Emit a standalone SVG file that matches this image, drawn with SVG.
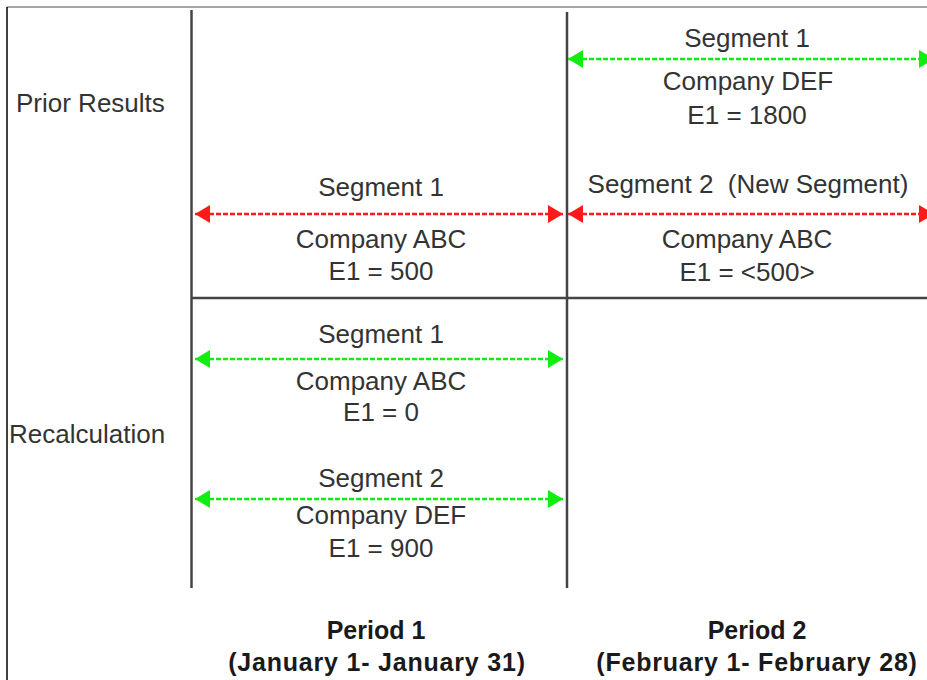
<svg xmlns="http://www.w3.org/2000/svg" width="927" height="680" viewBox="0 0 927 680">
<style>
text{font-family:"Liberation Sans",Arial,sans-serif;font-size:26px;fill:#333;text-anchor:middle}
.lbl{text-anchor:start}
.b{font-weight:bold;font-size:25px;fill:#1a1a1a}
.w{letter-spacing:0.8px}
.grid{stroke:#444;stroke-width:2.5;fill:none}
.g{stroke:#10ee10;stroke-width:2.5;stroke-dasharray:5 2;fill:none}
.r{stroke:#ff1a1a;stroke-width:2.5;stroke-dasharray:5 2;fill:none}
</style>
<defs>
<marker id="ag" markerUnits="userSpaceOnUse" markerWidth="16" markerHeight="20" refX="15" refY="10" orient="auto-start-reverse"><path d="M0,1 L15,10 L0,19 z" fill="#10ee10"/></marker>
<marker id="ar" markerUnits="userSpaceOnUse" markerWidth="16" markerHeight="20" refX="15" refY="10" orient="auto-start-reverse"><path d="M0,1 L15,10 L0,19 z" fill="#ff1a1a"/></marker>
</defs>
<rect width="927" height="680" fill="#fff"/>
<g id="frame">
<line x1="7" y1="7" x2="927" y2="7" stroke="#888" stroke-width="1.5"/>
<line x1="7" y1="7" x2="7" y2="680" stroke="#000" stroke-width="1.5"/>
</g>
<g id="grid" class="grid">
<line x1="191.5" y1="10" x2="191.5" y2="588"/>
<line x1="567" y1="12" x2="567" y2="588"/>
<line x1="191" y1="298" x2="927" y2="298"/>
</g>
<g id="connectors">
<line class="g" x1="568" y1="59" x2="934" y2="59" marker-start="url(#ag)" marker-end="url(#ag)"/>
<line class="r" x1="195" y1="214" x2="563" y2="214" marker-start="url(#ar)" marker-end="url(#ar)"/>
<line class="r" x1="568" y1="214" x2="934" y2="214" marker-start="url(#ar)" marker-end="url(#ar)"/>
<line class="g" x1="195" y1="359" x2="563" y2="359" marker-start="url(#ag)" marker-end="url(#ag)"/>
<line class="g" x1="195" y1="499" x2="563" y2="499" marker-start="url(#ag)" marker-end="url(#ag)"/>
</g>
<g id="label-prior"><text class="lbl" x="16" y="112">Prior Results</text></g>
<g id="label-recalc"><text class="lbl" x="9" y="443">Recalculation</text></g>
<g id="p2-seg1">
<text x="747" y="47">Segment 1</text>
<text x="748" y="90">Company DEF</text>
<text x="747" y="124">E1 = 1800</text>
</g>
<g id="p1-seg1-prior">
<text x="381" y="196">Segment 1</text>
<text x="381" y="248">Company ABC</text>
<text x="381" y="280">E1 = 500</text>
</g>
<g id="p2-seg2-prior">
<text x="748" y="193" xml:space="preserve">Segment 2  (New Segment)</text>
<text x="747" y="248">Company ABC</text>
<text x="747" y="281">E1 = &lt;500&gt;</text>
</g>
<g id="p1-seg1-recalc">
<text x="381" y="343">Segment 1</text>
<text x="381" y="390">Company ABC</text>
<text x="381" y="421">E1 = 0</text>
</g>
<g id="p1-seg2-recalc">
<text x="381" y="487">Segment 2</text>
<text x="381" y="524">Company DEF</text>
<text x="381" y="557">E1 = 900</text>
</g>
<g id="period1">
<text class="b" x="376" y="639">Period 1</text>
<text class="b w" x="377" y="671">(January 1- January 31)</text>
</g>
<g id="period2">
<text class="b" x="757" y="639">Period 2</text>
<text class="b w" x="757" y="671">(February 1- February 28)</text>
</g>
</svg>
